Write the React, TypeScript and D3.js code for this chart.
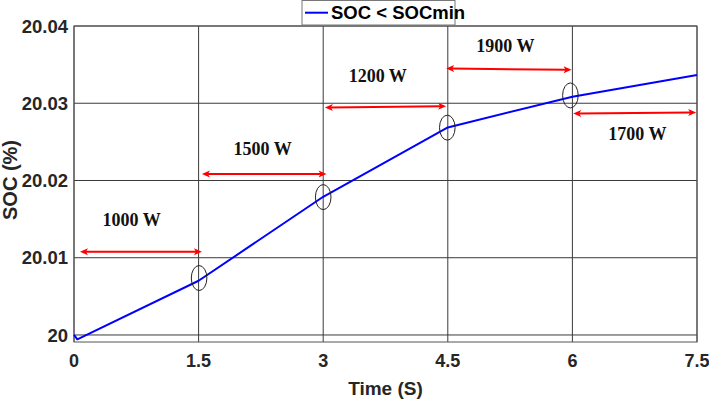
import React from "react";
import * as d3 from "d3";

const timeS = [0, 0.04, 1.5, 3, 4.5, 6, 7.5];
const socPct = [20.0, 19.99944, 20.00702, 20.01789, 20.02687, 20.03085, 20.03367];

const xTicks = [0, 1.5, 3, 4.5, 6, 7.5];
const xTickLabels = ["0", "1.5", "3", "4.5", "6", "7.5"];
const yTicks = [20, 20.01, 20.02, 20.03, 20.04];
const yTickLabels = ["20", "20.01", "20.02", "20.03", "20.04"];

// power annotations: arrow start/end (t, soc), label position (t, soc)
const powerLabels = ["1000 W", "1500 W", "1200 W", "1900 W", "1700 W"];
const arrowT1 = [0.072, 1.54, 3.02, 4.48, 6.01];
const arrowS1 = [20.01078, 20.02083, 20.02946, 20.0345, 20.02868];
const arrowT2 = [1.54, 3.04, 4.48, 5.99, 7.49];
const arrowS2 = [20.01078, 20.02083, 20.02962, 20.03432, 20.02881];
const labelT = [0.693, 2.27, 3.657, 5.193, 6.783];
const labelS = [20.0141, 20.02329, 20.03277, 20.03665, 20.02523];

// transition markers (ellipses)
const markT = [1.506, 3.0, 4.494, 5.976];
const markS = [20.00737, 20.01785, 20.02684, 20.03101];

const legendLabel = "SOC < SOCmin";
const xLabel = "Time (S)";
const yLabel = "SOC (%)";

export default function App() {
  const W = 709, H = 400;
  const left = 74, right = 697, top = 26, bottom = 342;
  const x = d3.scaleLinear().domain([0, 7.5]).range([left, right]);
  const y = d3.scaleLinear().domain([19.99909, 20.04]).range([bottom, top]);

  const line = d3
    .line<number>()
    .x((_, i) => x(timeS[i]))
    .y((d) => y(d));

  const sans = "'Liberation Sans', Arial, sans-serif";
  const serif = "'Liberation Serif', 'Times New Roman', serif";
  const textCol = "#262626";
  const gridCol = "#3a3a3a";

  const arrowHead = (tipX: number, tipY: number, dir: number) => {
    const L = 8, hw = 3.5;
    return `M${tipX},${tipY} L${tipX - dir * L},${tipY - hw} L${tipX - dir * L * 0.75},${tipY} L${tipX - dir * L},${tipY + hw} Z`;
  };

  return (
    <svg width={W} height={H} style={{ position: "absolute", left: 0, top: 0, background: "#fff" }}>
      <rect x={0} y={0} width={W} height={H} fill="#fff" />
      {/* grid */}
      {xTicks.map((t, i) => (
        <line key={"gx" + i} x1={x(t)} x2={x(t)} y1={top} y2={bottom} stroke={gridCol} strokeWidth={1} />
      ))}
      {yTicks.map((v, i) => (
        <line key={"gy" + i} x1={left} x2={right} y1={y(v)} y2={y(v)} stroke={gridCol} strokeWidth={1} />
      ))}
      {/* axes box */}
      <rect x={left} y={top} width={right - left} height={bottom - top} fill="none" stroke="#555" strokeWidth={1} />

      {/* tick labels */}
      {yTicks.map((v, i) => (
        <text key={"yt" + i} x={left - 6} y={y(v)} dy="0.36em" textAnchor="end" fontFamily={sans} fontWeight="bold" fontSize={18.5} fill={textCol}>
          {yTickLabels[i]}
        </text>
      ))}
      {xTicks.map((t, i) => (
        <text key={"xt" + i} x={x(t)} y={367} textAnchor="middle" fontFamily={sans} fontWeight="bold" fontSize={18} fill={textCol}>
          {xTickLabels[i]}
        </text>
      ))}
      <text x={(left + right) / 2} y={395} textAnchor="middle" fontFamily={sans} fontWeight="bold" fontSize={19} fill={textCol}>
        {xLabel}
      </text>
      <text transform={`translate(17,${(top + bottom) / 2 - 4}) rotate(-90)`} textAnchor="middle" fontFamily={sans} fontWeight="bold" fontSize={20} fill={textCol}>
        {yLabel}
      </text>

      {/* data line */}
      <path d={line(socPct) || ""} fill="none" stroke="#0000ff" strokeWidth={2} strokeLinejoin="round" />

      {/* ellipses */}
      {markT.map((t, i) => (
        <ellipse key={"e" + i} cx={x(t)} cy={y(markS[i])} rx={7.8} ry={12.5} fill="none" stroke="#222" strokeWidth={1} />
      ))}

      {/* arrows */}
      {powerLabels.map((lab, i) => {
        const x1 = x(arrowT1[i]), y1 = y(arrowS1[i]);
        const x2 = x(arrowT2[i]), y2 = y(arrowS2[i]);
        return (
          <g key={"a" + i}>
            <line x1={x1 + 5} y1={y1} x2={x2 - 5} y2={y2} stroke="#ff0000" strokeWidth={2} />
            <path d={arrowHead(x1, y1, -1)} fill="#ff0000" />
            <path d={arrowHead(x2, y2, 1)} fill="#ff0000" />
            <text x={x(labelT[i])} y={y(labelS[i])} textAnchor="middle" fontFamily={serif} fontWeight="bold" fontSize={18} fill="#111">
              {lab}
            </text>
          </g>
        );
      })}

      {/* legend */}
      <rect x={302} y={0.5} width={153} height={24.5} fill="#fff" stroke="#777" strokeWidth={1} />
      <line x1={305} x2={328} y1={12.7} y2={12.7} stroke="#0000ff" strokeWidth={2} />
      <text x={331} y={19.3} fontFamily={sans} fontWeight="bold" fontSize={18.5} fill="#000">
        {legendLabel}
      </text>
    </svg>
  );
}
